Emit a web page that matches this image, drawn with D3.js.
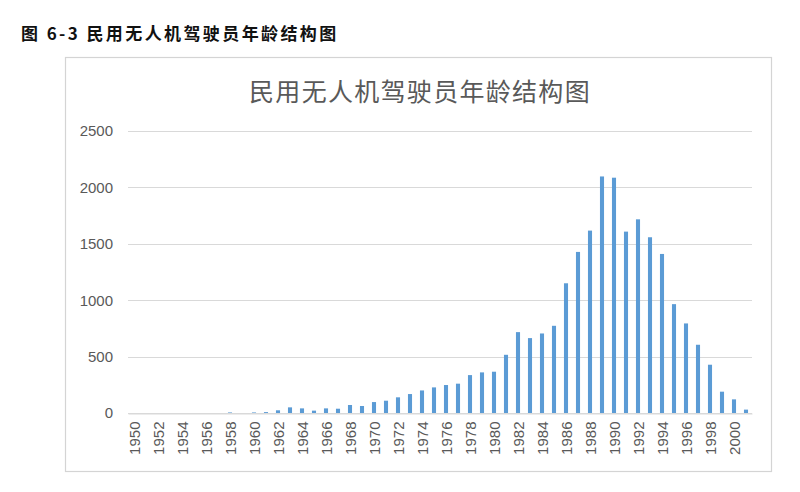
<html>
  <head>
    <meta charset="utf-8">
    <script src="https://d3js.org/d3.v7.min.js"></script>
    <style>
      body { margin: 0; background: #fff; }
    </style>
  </head>
  <body>
    <div id="dataviz"></div>
    <script>
      // chart data
      var years = d3.range(1950, 2002).map(String);
      var pilots = [
        0, 0, 0, 0, 0, 0, 0, 0, 5, 0,
        5, 8, 24, 50, 41, 21, 41, 38, 71, 62,
        97, 109, 139, 168, 200, 227, 248, 260, 336, 360,
        366, 516, 717, 664, 705, 773, 1150, 1428, 1617, 2097,
        2086, 1608, 1717, 1558, 1410, 965, 794, 605, 428, 189,
        121, 30
      ];
      var yTicks = [0, 500, 1000, 1500, 2000, 2500];
      var xTickLabels = years.filter(function(d, i) { return i % 2 == 0; });

      var caption = "图 6-3 民用无人机驾驶员年龄结构图";
      var title = "民用无人机驾驶员年龄结构图";

      var W = 800, H = 492;
      var svg = d3.select("#dataviz")
        .append("svg")
          .attr("width", W)
          .attr("height", H)
          .style("font-family", "'Noto Sans CJK SC', 'Noto Sans', sans-serif");

      // outer caption
      svg.append("text")
        .attr("x", 21)
        .attr("y", 40)
        .attr("font-size", 17)
        .attr("font-weight", "bold")
        .attr("letter-spacing", 2.4)
        .attr("fill", "#111")
        .text(caption);

      // chart frame
      svg.append("rect")
        .attr("x", 65.5)
        .attr("y", 57.5)
        .attr("width", 706)
        .attr("height", 414)
        .attr("fill", "#fff")
        .attr("stroke", "#d4d4d4")
        .attr("stroke-width", 1.2);

      svg.append("text")
        .attr("x", 420)
        .attr("y", 101)
        .attr("text-anchor", "middle")
        .attr("font-size", 25)
        .attr("letter-spacing", 1.3)
        .attr("fill", "#595959")
        .text(title);

      var x = d3.scaleBand()
        .domain(years)
        .range([128, 752])
        .paddingInner(0.66)
        .paddingOuter(0.33);

      var y = d3.scaleLinear()
        .domain([0, 2500])
        .range([413, 131]);

      // gridlines
      svg.append("g")
        .selectAll("line")
        .data(yTicks)
        .enter().append("line")
          .attr("x1", 128)
          .attr("x2", 752)
          .attr("y1", function(d) { return Math.round(y(d)) + 0.5; })
          .attr("y2", function(d) { return Math.round(y(d)) + 0.5; })
          .attr("stroke", "#d9d9d9")
          .attr("stroke-width", 1);

      // y axis labels
      var yAxis = svg.append("g")
        .attr("transform", "translate(128,0)")
        .call(d3.axisLeft(y).tickValues(yTicks).tickFormat(d3.format("d")).tickSize(0).tickPadding(15));
      yAxis.select(".domain").remove();
      yAxis.selectAll("text")
        .attr("font-size", 15)
        .attr("fill", "#595959")
        .style("font-family", "'Liberation Sans', 'Noto Sans', sans-serif");

      // bars
      svg.append("g")
        .selectAll("rect")
        .data(pilots)
        .enter().append("rect")
          .attr("x", function(d, i) { return x(years[i]); })
          .attr("width", x.bandwidth())
          .attr("y", function(d) { return y(d); })
          .attr("height", function(d) { return y(0) - y(d); })
          .attr("fill", "#5b9bd5");

      // x axis, rotated labels
      var xAxis = svg.append("g")
        .attr("transform", "translate(0,413.5)")
        .call(d3.axisBottom(x).tickValues(xTickLabels).tickSize(0).tickPadding(0));
      xAxis.select(".domain")
        .attr("stroke", "#d9d9d9");
      xAxis.selectAll("text")
        .attr("font-size", 15)
        .attr("fill", "#595959")
        .style("font-family", "'Liberation Sans', 'Noto Sans', sans-serif")
        .attr("text-anchor", "end")
        .attr("dy", "0.35em")
        .attr("transform", "translate(1,8) rotate(-90)")
        .attr("x", 0)
        .attr("y", 0);
    </script>
  </body>
</html>
